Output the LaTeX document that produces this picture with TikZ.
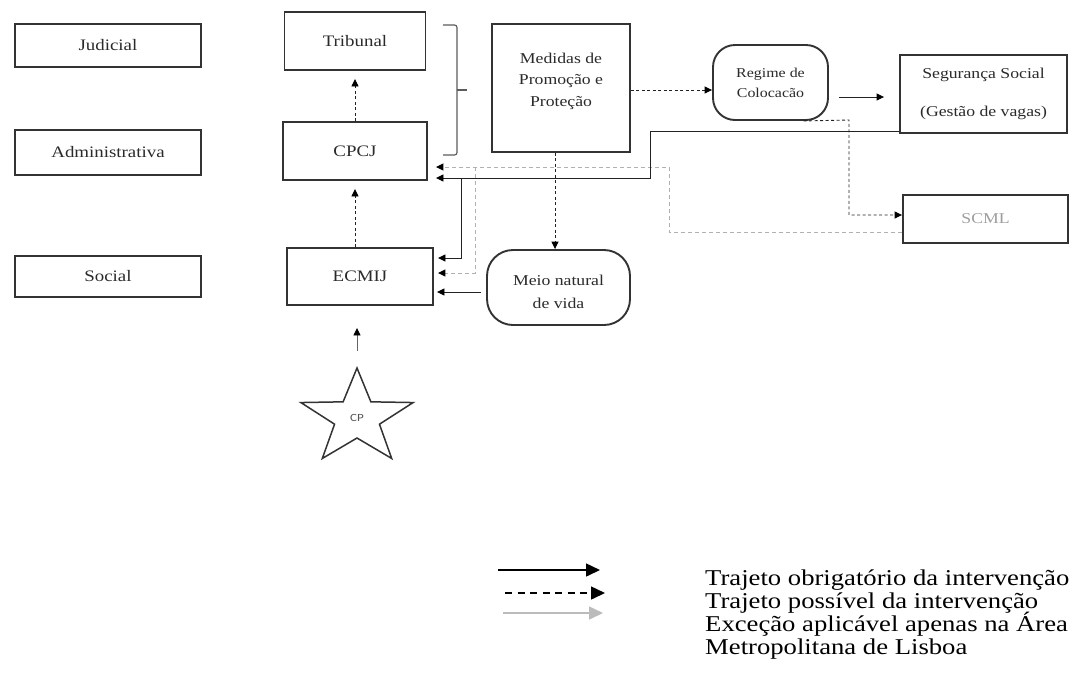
\documentclass[tikz,border=0pt]{standalone}
\usepackage{fontspec}
\setmainfont{Liberation Serif}[FakeStretch=1.18]
\newfontfamily\cpfont{Carlito}
\usetikzlibrary{arrows.meta,shapes.geometric,calc}
\definecolor{boxc}{HTML}{333333}
\definecolor{txtc}{HTML}{2A2A2A}
\definecolor{linec}{HTML}{222222}
\definecolor{grayl}{HTML}{B0B0B0}
\definecolor{legg}{HTML}{BBBBBB}
\tikzset{
  box/.style={draw=boxc, line width=1.9pt, fill=white, inner sep=0pt, text=txtc, align=center},
  rbox/.style={box, rounded corners=22pt},
  txt/.style={inner sep=0pt, text=txtc, align=center},
  con/.style={line width=0.9pt, draw=linec},
  gcon/.style={line width=1pt, draw=grayl, dash pattern=on 4pt off 3pt},
  dsh/.style={dash pattern=on 3pt off 2.5pt},
  arr/.style={-{Triangle[length=7.5pt,width=7pt,color=black]}},
  legarr/.style={-{Triangle[length=14pt,width=13pt]}},
  f16/.style={font=\fontsize{16}{19}\selectfont},
  f15/.style={font=\fontsize{15}{21.5}\selectfont},
  f13/.style={font=\fontsize{13.5}{20}\selectfont},
  legtxt/.style={inner sep=0pt, anchor=base west, font=\fontsize{22.6}{22.5}\selectfont},
}
\begin{document}
\begin{tikzpicture}[x=1pt,y=-1pt]
\path[use as bounding box, fill=white] (0,0) rectangle (1070,681);

% left column
\node[box,f16,minimum width=186pt,minimum height=43pt] (jud) at (108,45.5) {Judicial};
\node[box,f16,minimum width=186pt,minimum height=45pt] (adm) at (108,152.5) {Administrativa};
\node[box,f16,minimum width=186pt,minimum height=41pt] (soc) at (108,276.5) {Social};

% second column
\node[box,f16,minimum width=141pt,minimum height=58pt] (trib) at (355,41) {Tribunal};
\node[box,f16,minimum width=144pt,minimum height=58pt] (cpcj) at (355,151) {CPCJ};
\node[box,f16,minimum width=146pt,minimum height=57pt] (ecmij) at (360,276.5) {ECMIJ};

% bracket
\draw[line width=1.2pt, draw=boxc!80, rounded corners=2.5pt] (443,25) -- (457,25) -- (457,155) -- (443,155);
\draw[line width=1.2pt, draw=boxc!80] (457,90) -- (467,90);

% medidas
\node[box,minimum width=138pt,minimum height=128pt] (med) at (561,88) {};
\node[txt,f15] (medt) at (561,81) {Medidas de\\Promoção e\\Proteção};

% regime
\node[rbox,f13,minimum width=115pt,minimum height=75pt] (reg) at (770.5,82.5) {Regime de\\Colocacão};

% seguranca
\node[box,f15,minimum width=167pt,minimum height=78pt] (seg) at (983.5,94) {Segurança Social\\[17pt](Gestão de vagas)};

% SCML
\node[box,f15,minimum width=165pt,minimum height=48pt,text=grayl!90!black] (scml) at (985.5,219) {SCML};

% meio natural
\node[rbox,minimum width=143pt,minimum height=75pt,rounded corners=26pt] (meio) at (558.5,287.5) {};
\node[txt,font=\fontsize{15}{23}\selectfont] (meiot) at (558.5,291.5) {Meio natural\\de vida};

% star
\node[star, star points=5, star point ratio=2.5, minimum size=100pt, draw=boxc, line width=1.5pt, inner sep=0pt, xscale=1.18, font=\cpfont\fontsize{11}{12}\selectfont, text=txtc!80] (cp) at (357,418) {CP};

% connectors
\draw[con,dsh,arr,shorten >=8pt] (cpcj.north) -- (cpcj.north |- trib.south);
\draw[con,dsh,arr,shorten >=8pt] (ecmij.north -| cpcj.north) -- (cpcj.south);
\draw[con,arr,draw=linec!70,shorten <=15pt,shorten >=22pt] (cp.north) -- (cp.north |- ecmij.south);

\draw[con,dsh,arr] ([yshift=-2pt]med.east) -- ([yshift=-2pt]med.east -| reg.west);
\draw[con,arr,shorten <=10pt,shorten >=15pt] ([yshift=-3pt]seg.west -| reg.east) -- ([yshift=-3pt]seg.west);

\coordinate (r1) at (849,120);
\coordinate (r2) at (849,215);
\draw[con,dsh,arr] ([xshift=33pt]reg.south) -- (r1) -- (r2) -- (r2 -| scml.west);

\draw[con,dsh,arr] ([xshift=-3.5pt]meio.north |- med.south) -- ([xshift=-3.5pt]meio.north);
\draw[con,arr,shorten <=5pt,shorten >=3pt] ([yshift=-4.5pt]meio.west) -- ([yshift=-4.5pt]meio.west -| ecmij.east);

% gray exception paths
\coordinate (g1) at (669,232);
\coordinate (g2) at (669,167);
\coordinate (g3) at (475,167);
\coordinate (g4) at (475,273);
\draw[gcon,arr,shorten >=8pt] (scml.west |- g1) -- (g1) -- (g2) -- (g2 -| cpcj.east);
\draw[gcon,arr,shorten >=4pt] (g3) -- (g4) -- (g4 -| ecmij.east);

% solid return paths
\coordinate (s1) at (650,131);
\coordinate (s2) at (650,178);
\coordinate (s3) at (461,178);
\coordinate (s4) at (461,258);
\draw[con,arr,shorten >=8pt] (seg.south west |- s1) -- (s1) -- (s2) -- (s2 -| cpcj.east);
\draw[con,arr,shorten >=4pt] (s3) -- (s4) -- (s4 -| ecmij.east);

% legend
\coordinate (la1) at (498,570); \coordinate (lb1) at (600,570);
\coordinate (la2) at (505,593); \coordinate (lb2) at (605,593);
\coordinate (la3) at (503,613); \coordinate (lb3) at (603,613);
\draw[line width=1.5pt, draw=black, legarr] (la1) -- (lb1);
\draw[line width=1.5pt, draw=black, dash pattern=on 7pt off 5.5pt, legarr] (la2) -- (lb2);
\draw[line width=1.5pt, draw=legg, legarr] (la3) -- (lb3);
\node[legtxt] (t1) at (705,585) {Trajeto obrigatório da intervenção};
\node[legtxt] (t2) at (705,608) {Trajeto possível da intervenção};
\node[legtxt] (t3) at (705,631) {Exceção aplicável apenas na Área};
\node[legtxt] (t4) at (705,654) {Metropolitana de Lisboa};
\end{tikzpicture}
\end{document}
